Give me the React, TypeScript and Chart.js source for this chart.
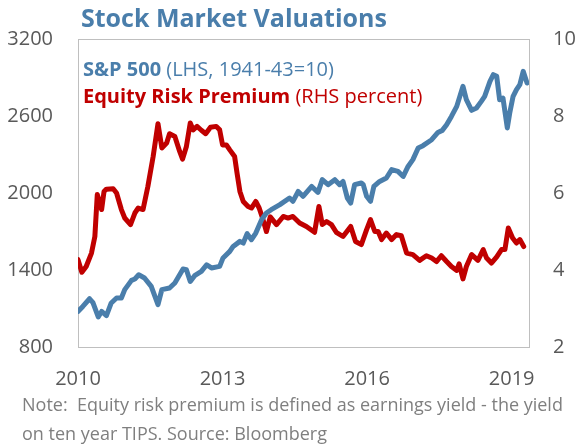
import React, { useEffect, useRef } from "react";
import { Chart, registerables } from "chart.js";

Chart.register(...registerables);

// S&P 500 index (LHS), date as decimal year
const spxDates = [
  2010.0, 2010.1, 2010.24, 2010.31, 2010.42, 2010.49, 2010.59, 2010.69, 2010.8, 2010.9, 2010.97,
  2011.11, 2011.18, 2011.26, 2011.38, 2011.52, 2011.66, 2011.74, 2011.9, 2012.01, 2012.18, 2012.25,
  2012.33, 2012.42, 2012.56, 2012.67, 2012.77, 2012.94, 2013.01, 2013.15, 2013.22, 2013.36, 2013.43,
  2013.51, 2013.6, 2013.69, 2013.81, 2013.91, 2014.01, 2014.19, 2014.39, 2014.46, 2014.57, 2014.67,
  2014.85, 2014.98, 2015.07, 2015.19, 2015.33, 2015.43, 2015.5, 2015.59, 2015.66, 2015.74, 2015.88,
  2015.92, 2015.99, 2016.07, 2016.14, 2016.26, 2016.4, 2016.51, 2016.64, 2016.75, 2016.85, 2016.95,
  2017.06, 2017.16, 2017.34, 2017.47, 2017.56, 2017.65, 2017.75, 2017.86, 2017.99, 2018.06, 2018.17,
  2018.27, 2018.37, 2018.44, 2018.55, 2018.62, 2018.69, 2018.75, 2018.82, 2018.91, 2018.96, 2019.03,
  2019.1, 2019.17, 2019.24, 2019.32,
];
const spxValues = [
  1077, 1116, 1176, 1145, 1034, 1077, 1044, 1143, 1182, 1182, 1247,
  1319, 1330, 1363, 1338, 1272, 1130, 1247, 1260, 1299, 1408, 1402,
  1311, 1356, 1389, 1441, 1416, 1428, 1494, 1545, 1584, 1623, 1610,
  1683, 1636, 1688, 1792, 1844, 1870, 1909, 1961, 1935, 2012, 1974,
  2051, 2005, 2104, 2065, 2104, 2065, 2090, 1961, 1922, 2065, 2078,
  2065, 1974, 1935, 2051, 2090, 2117, 2182, 2168, 2129, 2207, 2260,
  2351, 2369, 2415, 2472, 2488, 2532, 2597, 2675, 2831, 2727, 2644,
  2662, 2714, 2753, 2870, 2922, 2909, 2727, 2740, 2507, 2623, 2753,
  2805, 2844, 2948, 2857,
];

// Equity risk premium (RHS, percent)
const erpDates = [
  2010.0, 2010.08, 2010.17, 2010.28, 2010.35, 2010.4, 2010.45, 2010.49, 2010.54, 2010.59, 2010.73,
  2010.8, 2010.9, 2010.97, 2011.09, 2011.18, 2011.25, 2011.35, 2011.45, 2011.56, 2011.66, 2011.74,
  2011.84, 2011.9, 2012.01, 2012.11, 2012.17, 2012.25, 2012.33, 2012.39, 2012.47, 2012.56, 2012.65,
  2012.75, 2012.87, 2012.94, 2013.0, 2013.08, 2013.15, 2013.25, 2013.3, 2013.36, 2013.43, 2013.53,
  2013.6, 2013.69, 2013.76, 2013.84, 2013.91, 2013.99, 2014.12, 2014.26, 2014.36, 2014.46, 2014.6,
  2014.74, 2014.91, 2015.0, 2015.07, 2015.16, 2015.26, 2015.36, 2015.5, 2015.66, 2015.76, 2015.88,
  2015.99, 2016.07, 2016.16, 2016.23, 2016.3, 2016.4, 2016.51, 2016.61, 2016.71, 2016.82, 2016.95,
  2017.09, 2017.23, 2017.34, 2017.44, 2017.54, 2017.65, 2017.75, 2017.86, 2017.91, 2017.99, 2018.06,
  2018.17, 2018.3, 2018.41, 2018.48, 2018.58, 2018.69, 2018.79, 2018.86, 2018.93, 2019.02, 2019.1,
  2019.17, 2019.25,
];
const erpValues = [
  4.27, 3.94, 4.09, 4.44, 4.87, 5.96, 5.74, 5.57, 6.04, 6.1, 6.11,
  6.0, 5.57, 5.35, 5.18, 5.48, 5.61, 5.57, 6.17, 6.95, 7.8, 7.17,
  7.3, 7.54, 7.47, 7.08, 6.88, 7.21, 7.82, 7.64, 7.73, 7.63, 7.54,
  7.71, 7.73, 7.64, 7.25, 7.25, 7.12, 6.95, 6.52, 6.04, 5.78, 5.65,
  5.61, 5.78, 5.61, 5.31, 5.0, 5.38, 5.18, 5.39, 5.35, 5.39, 5.22,
  5.13, 4.98, 5.65, 5.18, 5.26, 5.18, 4.98, 4.87, 5.13, 4.74, 4.66,
  5.05, 5.31, 5.0, 5.0, 4.79, 4.96, 4.79, 4.92, 4.89, 4.44, 4.4,
  4.25, 4.37, 4.31, 4.22, 4.37, 4.22, 4.09, 3.99, 4.16, 3.77, 4.09,
  4.4, 4.25, 4.53, 4.31, 4.18, 4.34, 4.53, 4.53, 5.09, 4.83, 4.7,
  4.79, 4.61,
];

const xTickYears = [2010, 2013, 2016, 2019];
const leftTicks = [800, 1400, 2000, 2600, 3200];
const rightTicks = [2, 4, 6, 8, 10];

const titleText = "Stock Market Valuations";
const legendLines = [
  { bold: "S&P 500", normal: " (LHS, 1941-43=10)", color: "#4A7EAB" },
  { bold: "Equity Risk Premium", normal: " (RHS percent)", color: "#C00000" },
];
const noteLines = [
  "Note:  Equity risk premium is defined as earnings yield - the yield",
  "on ten year TIPS. Source: Bloomberg",
];

const BLUE = "#4A7EAB";
const RED = "#C00000";
const FONT = "'Open Sans', 'Noto Sans', sans-serif";

const decorPlugin = {
  id: "decor",
  beforeDatasetsDraw(chart: any) {
    const { ctx, chartArea } = chart;
    ctx.save();
    ctx.strokeStyle = "#BFBFBF";
    ctx.lineWidth = 1;
    ctx.strokeRect(
      Math.round(chartArea.left) + 0.5,
      Math.round(chartArea.top) + 0.5,
      Math.round(chartArea.right - chartArea.left),
      Math.round(chartArea.bottom - chartArea.top)
    );
    ctx.restore();
  },
  afterDraw(chart: any) {
    const { ctx } = chart;
    ctx.save();
    ctx.textBaseline = "alphabetic";
    ctx.textAlign = "left";
    // title
    ctx.fillStyle = BLUE;
    ctx.font = `bold 25px ${FONT}`;
    ctx.fillText(titleText, 81, 27);
    // legend
    legendLines.forEach((l, i) => {
      const y = 76 + i * 27;
      ctx.fillStyle = l.color;
      ctx.font = `bold 20px ${FONT}`;
      ctx.fillText(l.bold, 83, y);
      const w = ctx.measureText(l.bold).width;
      ctx.font = `20px ${FONT}`;
      ctx.fillText(l.normal, 83 + w, y);
    });
    // note
    ctx.fillStyle = "#7F7F7F";
    ctx.font = `18px ${FONT}`;
    noteLines.forEach((t, i) => ctx.fillText(t, 22, 411 + i * 29));
    ctx.restore();
  },
};

export default function App() {
  const ref = useRef<HTMLCanvasElement | null>(null);
  useEffect(() => {
    if (!ref.current) return;
    const chart = new Chart(ref.current, {
      type: "line",
      data: {
        datasets: [
          {
            label: "S&P 500",
            data: spxDates.map((d, i) => ({ x: d, y: spxValues[i] })),
            borderColor: BLUE,
            borderWidth: 5,
            pointRadius: 0,
            tension: 0,
            borderJoinStyle: "round",
            borderCapStyle: "round",
            yAxisID: "y",
          },
          {
            label: "Equity Risk Premium",
            data: erpDates.map((d, i) => ({ x: d, y: erpValues[i] })),
            borderColor: RED,
            borderWidth: 5,
            pointRadius: 0,
            tension: 0,
            borderJoinStyle: "round",
            borderCapStyle: "round",
            yAxisID: "y1",
          },
        ],
      },
      options: {
        responsive: false,
        animation: false,
        events: [],
        layout: { padding: { top: 39, bottom: 59, left: 0, right: 0 } },
        plugins: { legend: { display: false }, tooltip: { enabled: false }, title: { display: false } },
        scales: {
          x: {
            type: "linear",
            min: 2010,
            max: 2019.36,
            grid: { display: false, drawTicks: false },
            border: { display: false },
            afterBuildTicks: (s: any) => {
              s.ticks = xTickYears.map((v) => ({ value: v }));
            },
            afterFit: (s: any) => {
              s.height = 40;
            },
            ticks: {
              autoSkip: false,
              maxRotation: 0,
              padding: 20,
              color: "#595959",
              font: { family: FONT, size: 20 },
              callback: (v: any) => String(v),
            },
          },
          y: {
            position: "left",
            min: 800,
            max: 3200,
            grid: { display: false, drawTicks: false },
            border: { display: false },
            afterBuildTicks: (s: any) => {
              s.ticks = leftTicks.map((v) => ({ value: v }));
            },
            afterFit: (s: any) => {
              s.width = 78;
            },
            ticks: {
              padding: 25,
              color: "#595959",
              font: { family: FONT, size: 20 },
              callback: (v: any) => String(v),
            },
          },
          y1: {
            position: "right",
            min: 2,
            max: 10,
            grid: { display: false, drawTicks: false },
            border: { display: false },
            afterBuildTicks: (s: any) => {
              s.ticks = rightTicks.map((v) => ({ value: v }));
            },
            afterFit: (s: any) => {
              s.width = 48;
            },
            ticks: {
              padding: 24,
              color: "#595959",
              font: { family: FONT, size: 20 },
              callback: (v: any) => String(v),
            },
          },
        },
      },
      plugins: [decorPlugin],
    } as any);
    return () => chart.destroy();
  }, []);
  return (
    <div style={{ position: "fixed", left: 0, top: 0, width: 577, height: 446, background: "#fff" }}>
      <canvas ref={ref} width={577} height={446} />
    </div>
  );
}
